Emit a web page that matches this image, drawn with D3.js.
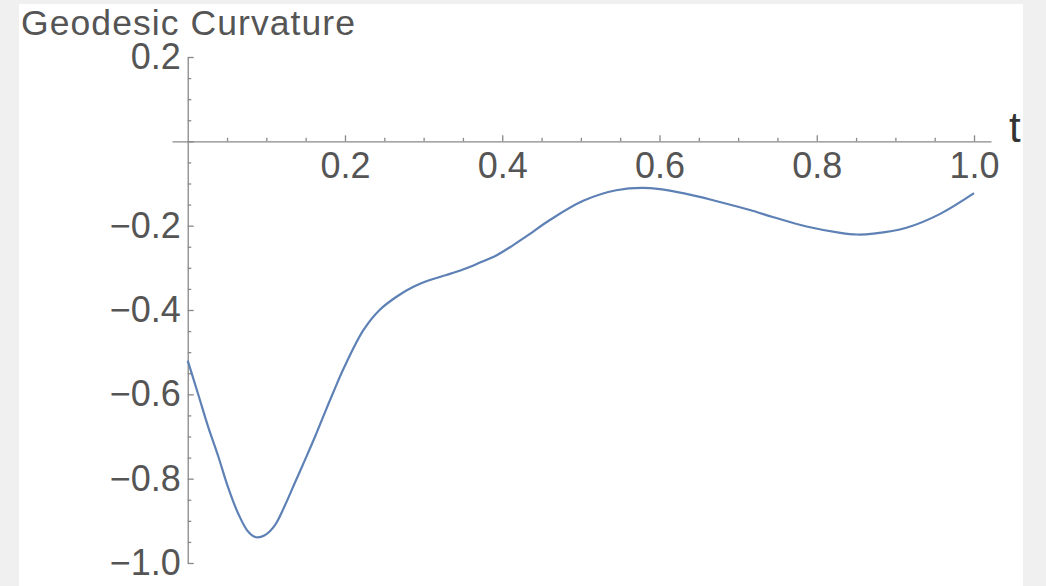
<!DOCTYPE html>
<html>
<head>
<meta charset="utf-8">
<script src="https://cdn.jsdelivr.net/npm/d3@7"></script>
<style>
    body { margin: 0; background: #f0f0f0; }
    svg { display: block; }
    .tick text { font-family: "Liberation Sans", Arial, sans-serif; fill: #555; }
</style>
</head>
<body>
<div class="container"></div>
<script>
// curve
let tValues = [0, 0.013, 0.026, 0.039, 0.051, 0.064, 0.077, 0.087, 0.098, 0.111, 0.123, 0.136, 0.149,
    0.162, 0.174, 0.187, 0.199, 0.223, 0.244, 0.266, 0.287, 0.308, 0.329, 0.350, 0.371, 0.393,
    0.414, 0.431, 0.461, 0.503, 0.545, 0.588, 0.630, 0.673, 0.715, 0.745, 0.787, 0.830, 0.851,
    0.872, 0.914, 0.957, 1.0];
let kValues = [-0.520, -0.598, -0.677, -0.748, -0.819, -0.882, -0.926, -0.939, -0.934, -0.910, -0.866, -0.811, -0.756,
    -0.700, -0.645, -0.587, -0.536, -0.449, -0.400, -0.368, -0.345, -0.329, -0.317, -0.304, -0.288, -0.270,
    -0.246, -0.225, -0.186, -0.141, -0.116, -0.111, -0.123, -0.142, -0.163, -0.180, -0.202, -0.217, -0.221,
    -0.219, -0.205, -0.172, -0.123];

let xMajor = [0.2, 0.4, 0.6, 0.8, 1.0];
let xMinor = [0.05, 0.1, 0.15, 0.25, 0.3, 0.35, 0.45, 0.5, 0.55, 0.65, 0.7, 0.75, 0.85, 0.9, 0.95];
let yMajor = [-1.0, -0.8, -0.6, -0.4, -0.2, 0, 0.2];
let yMinor = [-0.95, -0.9, -0.85, -0.75, -0.7, -0.65, -0.55, -0.5, -0.45, -0.35, -0.3, -0.25,
    -0.15, -0.1, -0.05, 0.05, 0.1, 0.15];

let titleText = "Geodesic Curvature";
let xLabel = "t";

let W = 1046, H = 586;

let svg = d3.select(".container").append("svg")
    .attr("width", W)
    .attr("height", H);

// white plot panel on the grey page
svg.append("rect")
    .attr("x", 19).attr("y", 4)
    .attr("width", 1004).attr("height", H - 4)
    .attr("fill", "#fff");

let x = d3.scaleLinear().domain([-0.02, 1.0216]).range([172, 991]);
let y = d3.scaleLinear().domain([-1, 0.2]).range([563, 57]);

let fmt = d3.format(".1f");

// x axis: ticks point up, labels below
let xAxis = d3.axisBottom(x)
    .tickValues(xMajor)
    .tickSizeInner(-6)
    .tickSizeOuter(0)
    .tickPadding(11)
    .tickFormat(fmt);

let xAxisMinor = d3.axisBottom(x)
    .tickValues(xMinor)
    .tickSizeInner(-3.5)
    .tickSizeOuter(0)
    .tickFormat("");

svg.append("g")
    .attr("transform", "translate(0," + y(0) + ")")
    .call(xAxis);
svg.append("g")
    .attr("transform", "translate(0," + y(0) + ")")
    .call(xAxisMinor)
    .select(".domain").remove();

// y axis: ticks point right, labels left
let yAxis = d3.axisLeft(y)
    .tickValues(yMajor)
    .tickSizeInner(-6)
    .tickSizeOuter(0)
    .tickPadding(7)
    .tickFormat(d => d === 0 ? "" : fmt(d));

let yAxisMinor = d3.axisLeft(y)
    .tickValues(yMinor)
    .tickSizeInner(-3.5)
    .tickSizeOuter(0)
    .tickFormat("");

svg.append("g")
    .attr("transform", "translate(" + x(0) + ",0)")
    .call(yAxis);
svg.append("g")
    .attr("transform", "translate(" + x(0) + ",0)")
    .call(yAxisMinor)
    .select(".domain").remove();

svg.selectAll(".domain, .tick line")
    .attr("stroke", "#888")
    .attr("stroke-width", 1.3);
svg.selectAll(".tick text")
    .attr("font-size", 36);

// curve
let data = tValues.map((t, i) => ({ t: t, k: kValues[i] }));
let line = d3.line()
    .x(d => x(d.t))
    .y(d => y(d.k))
    .curve(d3.curveCatmullRom.alpha(0.5));

svg.append("path")
    .datum(data)
    .attr("fill", "none")
    .attr("stroke", "#5e81b5")
    .attr("stroke-width", 2.2)
    .attr("d", line);

// labels
svg.append("text")
    .attr("x", 21)
    .attr("y", 35)
    .attr("font-family", "Liberation Sans, Arial, sans-serif")
    .attr("font-size", 35.5)
    .attr("textLength", 334)
    .attr("lengthAdjust", "spacing")
    .attr("fill", "#555")
    .text(titleText);

svg.append("text")
    .attr("x", 1009)
    .attr("y", 142)
    .attr("font-family", "Liberation Sans, Arial, sans-serif")
    .attr("font-size", 42)
    .attr("fill", "#333")
    .text(xLabel);

// grey strip on the right, cuts off the t label like the original
svg.append("rect")
    .attr("x", 1023).attr("y", 0)
    .attr("width", W - 1023).attr("height", H)
    .attr("fill", "#f0f0f0");
</script>
</body>
</html>
